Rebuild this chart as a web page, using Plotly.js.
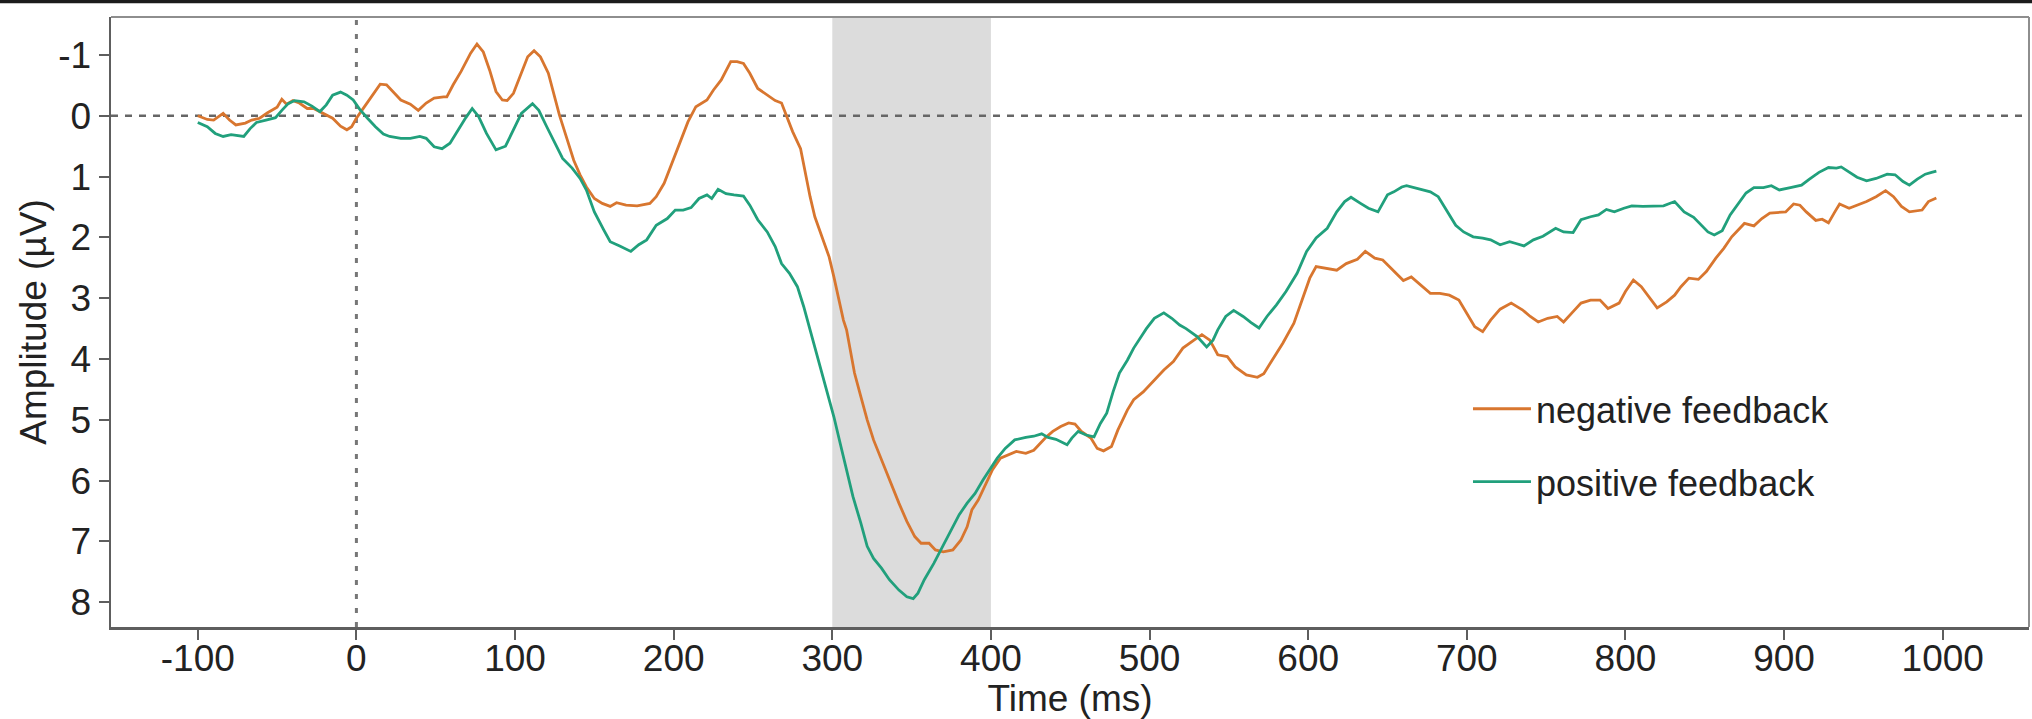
<!DOCTYPE html>
<html>
<head>
<meta charset="utf-8">
<script src="https://cdn.plot.ly/plotly-3.0.1.min.js"></script>
<style>
  html, body { margin: 0; padding: 0; background: #ffffff; }
  #chart { width: 2032px; height: 719px; }
</style>
</head>
<body>
<div id="chart"></div>
<script>
// ---- Data (time in ms, amplitude in µV) ----
const seriesNames = ["negative feedback", "positive feedback"];

const negTime = [-100,-94,-90,-84,-80,-76,-70,-66,-61,-56,-50,-47,-44,-40,-36,-31,-27,-23,-18,-15,-10,-6,-3,0,4,10,15,19,23,28,34,39,44,49,55,57,61,66,72,76,80,84,88,92,95,99,103,108,112,116,121,125,128,133,137,141,145,150,155,160,164,170,177,185,189,194,199,204,209,214,217,221,225,230,236,240,244,248,253,259,264,268,271,275,280,283,286,289,293,298,301,304,307,309,311,314,318,322,326,331,336,342,347,352,356,361,365,370,376,381,385,388,392,396,401,406,411,416,422,427,431,435,439,444,449,453,457,463,467,471,476,480,486,490,496,502,509,515,521,528,533,538,543,549,554,561,568,572,578,584,591,597,601,605,612,618,624,631,636,642,647,654,660,665,671,677,683,689,695,700,705,710,715,721,728,735,740,745,751,757,761,767,772,778,784,789,796,800,805,810,816,820,826,831,835,840,846,851,857,862,867,872,875,881,886,891,896,901,906,910,914,920,924,928,932,935,941,946,952,958,964,969,974,979,987,991,996];
const negAmp = [0.00,0.06,0.07,-0.04,0.07,0.15,0.12,0.07,0.04,-0.05,-0.14,-0.27,-0.19,-0.25,-0.21,-0.12,-0.12,-0.07,-0.01,0.04,0.17,0.23,0.18,0.04,-0.11,-0.34,-0.52,-0.51,-0.40,-0.26,-0.19,-0.09,-0.21,-0.29,-0.31,-0.31,-0.51,-0.73,-1.03,-1.18,-1.05,-0.75,-0.40,-0.26,-0.25,-0.37,-0.64,-0.97,-1.07,-0.97,-0.70,-0.31,-0.01,0.40,0.73,0.97,1.17,1.36,1.44,1.49,1.43,1.47,1.48,1.44,1.33,1.11,0.78,0.45,0.10,-0.15,-0.20,-0.26,-0.42,-0.59,-0.89,-0.89,-0.86,-0.70,-0.45,-0.34,-0.25,-0.21,-0.01,0.26,0.54,0.95,1.33,1.66,1.96,2.32,2.65,3.03,3.36,3.52,3.80,4.23,4.62,5.00,5.33,5.66,5.99,6.37,6.67,6.92,7.03,7.03,7.14,7.17,7.14,6.98,6.76,6.48,6.32,6.10,5.82,5.63,5.58,5.52,5.55,5.50,5.39,5.28,5.19,5.11,5.05,5.07,5.19,5.30,5.47,5.51,5.44,5.17,4.84,4.67,4.54,4.37,4.18,4.04,3.82,3.69,3.60,3.69,3.93,3.96,4.13,4.26,4.30,4.24,3.99,3.74,3.41,2.97,2.67,2.48,2.51,2.54,2.43,2.36,2.23,2.34,2.37,2.56,2.71,2.65,2.78,2.92,2.92,2.95,3.03,3.25,3.47,3.55,3.36,3.18,3.08,3.19,3.30,3.39,3.33,3.30,3.39,3.22,3.08,3.03,3.03,3.17,3.08,2.89,2.70,2.81,3.03,3.16,3.06,2.95,2.81,2.67,2.69,2.56,2.34,2.18,1.99,1.86,1.77,1.81,1.69,1.60,1.59,1.58,1.45,1.47,1.58,1.72,1.70,1.76,1.58,1.45,1.52,1.47,1.41,1.33,1.23,1.33,1.49,1.58,1.55,1.41,1.35];

const posTime = [-100,-94,-89,-84,-79,-73,-71,-67,-63,-57,-51,-47,-43,-39,-33,-28,-23,-19,-15,-10,-6,-2,2,7,12,17,21,28,34,40,44,49,54,59,64,69,73,77,82,88,94,99,104,111,115,120,125,130,136,141,145,150,156,160,166,173,178,183,189,196,201,206,211,216,221,224,228,233,238,244,248,253,259,264,268,273,278,282,286,290,295,301,305,309,313,318,322,326,331,336,342,347,351,354,358,364,369,374,380,385,390,395,399,404,409,415,422,427,432,436,441,448,451,455,460,465,469,473,477,481,486,490,496,498,503,509,514,519,523,530,536,540,543,548,553,559,564,569,574,580,586,593,599,605,612,618,623,627,633,638,644,650,654,659,662,668,677,682,687,693,698,704,710,715,721,727,731,736,742,748,756,761,767,772,778,783,788,793,799,804,811,818,824,831,837,843,848,852,856,861,866,872,876,881,887,892,897,904,911,916,922,928,933,936,941,946,952,958,965,970,975,979,984,989,993,996];
const posAmp = [0.11,0.18,0.29,0.34,0.31,0.33,0.34,0.21,0.11,0.07,0.03,-0.09,-0.20,-0.25,-0.23,-0.16,-0.07,-0.18,-0.34,-0.39,-0.34,-0.26,-0.11,0.04,0.18,0.30,0.34,0.37,0.37,0.34,0.37,0.51,0.54,0.45,0.23,0.03,-0.12,0.01,0.29,0.56,0.50,0.23,-0.04,-0.20,-0.09,0.18,0.45,0.70,0.86,1.03,1.22,1.58,1.88,2.07,2.14,2.23,2.12,2.04,1.80,1.69,1.55,1.55,1.51,1.36,1.30,1.36,1.21,1.28,1.30,1.32,1.47,1.71,1.91,2.15,2.43,2.59,2.81,3.14,3.52,3.91,4.40,4.95,5.39,5.82,6.26,6.70,7.08,7.28,7.44,7.63,7.80,7.91,7.94,7.85,7.63,7.36,7.11,6.84,6.56,6.37,6.21,5.99,5.82,5.63,5.47,5.33,5.29,5.27,5.23,5.29,5.32,5.41,5.30,5.19,5.25,5.28,5.06,4.89,4.54,4.23,4.02,3.82,3.58,3.50,3.33,3.24,3.33,3.44,3.50,3.63,3.80,3.69,3.52,3.30,3.20,3.30,3.40,3.49,3.30,3.11,2.89,2.59,2.23,2.01,1.85,1.58,1.41,1.34,1.44,1.52,1.58,1.30,1.25,1.17,1.15,1.19,1.25,1.33,1.55,1.80,1.91,1.99,2.01,2.04,2.12,2.07,2.10,2.14,2.04,1.98,1.85,1.91,1.92,1.71,1.66,1.63,1.54,1.58,1.52,1.48,1.49,1.49,1.48,1.41,1.58,1.67,1.80,1.91,1.96,1.89,1.63,1.42,1.27,1.18,1.18,1.15,1.22,1.18,1.14,1.04,0.93,0.85,0.86,0.84,0.92,1.01,1.07,1.03,0.96,0.97,1.08,1.14,1.04,0.96,0.93,0.91];

const xTickValues = [-100, 0, 100, 200, 300, 400, 500, 600, 700, 800, 900, 1000];
const xTickLabels = ["-100", "0", "100", "200", "300", "400", "500", "600", "700", "800", "900", "1000"];
const yTickValues = [-1, 0, 1, 2, 3, 4, 5, 6, 7, 8];
const yTickLabels = ["-1", "0", "1", "2", "3", "4", "5", "6", "7", "8"];
const window_ms = [300, 400];   // highlighted analysis window

// ---- Styling ----
const FONT = "Liberation Sans, Arial, Helvetica, sans-serif";
const axisColor = "#5e5e5e";

const traces = [
  {
    x: negTime, y: negAmp, name: seriesNames[0], type: "scatter", mode: "lines",
    line: { color: "#d8762f", width: 2.8 }, legendgroup: "neg", hoverinfo: "x+y+name"
  },
  {
    x: posTime, y: posAmp, name: seriesNames[1], type: "scatter", mode: "lines",
    line: { color: "#21a07c", width: 2.8 }, legendgroup: "pos", hoverinfo: "x+y+name"
  }
];

const layout = {
  width: 2032, height: 719,
  margin: { l: 111, r: 3, t: 17, b: 92, pad: 0 },
  paper_bgcolor: "#ffffff", plot_bgcolor: "#ffffff",
  font: { family: FONT, size: 37, color: "#222222" },
  showlegend: true,
  legend: {
    x: 0.7075, y: 0.4068, xanchor: "left", yanchor: "top",
    bgcolor: "rgba(0,0,0,0)", borderwidth: 0,
    font: { family: FONT, size: 36, color: "#222222" },
    itemwidth: 58,
    tracegroupgap: 23, traceorder: "grouped"
  },
  xaxis: {
    range: [-154.7, 1054.4], autorange: false,
    tickmode: "array", tickvals: xTickValues, ticktext: xTickLabels,
    ticks: "outside", ticklen: 10, tickwidth: 2, tickcolor: axisColor,
    ticklabelstandoff: -13,
    showline: true, linecolor: axisColor, linewidth: 2.5, mirror: false,
    showgrid: false, zeroline: false,
    tickfont: { family: FONT, size: 37, color: "#222222" },
    title: { text: "Time (ms)", font: { family: FONT, size: 37, color: "#222222" }, standoff: 3 },
    automargin: false
  },
  yaxis: {
    range: [8.407, -1.625], autorange: false,
    tickmode: "array", tickvals: yTickValues, ticktext: yTickLabels,
    ticks: "outside", ticklen: 10, tickwidth: 2, tickcolor: axisColor,
    showline: true, linecolor: axisColor, linewidth: 2.5, mirror: false,
    showgrid: false, zeroline: false,
    tickfont: { family: FONT, size: 37, color: "#222222" },
    title: { text: "Amplitude (µV)", font: { family: FONT, size: 37, color: "#222222" }, standoff: 0 },
    automargin: false
  },
  shapes: [
    // shaded analysis window
    { type: "rect", xref: "x", yref: "paper", x0: window_ms[0], x1: window_ms[1], y0: 0, y1: 1,
      fillcolor: "#dcdcdc", line: { width: 0 }, layer: "below" },
    // zero amplitude dashed line
    { type: "line", xref: "paper", yref: "y", x0: 0, x1: 1, y0: 0, y1: 0,
      line: { color: "#666666", width: 2.5, dash: "7px,7px" }, layer: "below" },
    // stimulus onset dotted line
    { type: "line", xref: "x", yref: "paper", x0: 0, x1: 0, y0: 0, y1: 1,
      line: { color: "#777777", width: 3, dash: "5px,9px" }, layer: "below" },
    // top and right frame
    { type: "line", xref: "paper", yref: "paper", x0: 0, x1: 1, y0: 1, y1: 1,
      line: { color: "#8e8e8e", width: 2 } },
    { type: "line", xref: "paper", yref: "paper", x0: 1, x1: 1, y0: 0, y1: 1,
      line: { color: "#8e8e8e", width: 2 } },
    // dark band at the very top of the image
    { type: "rect", xref: "paper", yref: "paper", x0: -0.06, x1: 1.01, y0: 1.0225, y1: 1.03,
      fillcolor: "#1c1c1c", line: { width: 0 } }
  ]
};

Plotly.newPlot("chart", traces, layout, { displayModeBar: false, staticPlot: true });
</script>
</body>
</html>
